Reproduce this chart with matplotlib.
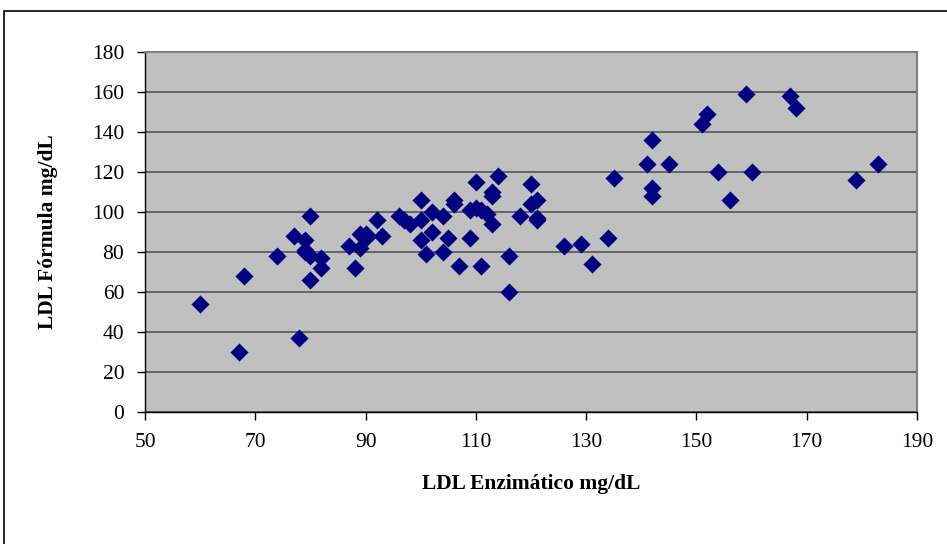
import matplotlib.pyplot as plt
from matplotlib.patches import Rectangle

# LDL enzimatico (x) vs LDL formula (y), mg/dL
ldl_enzimatico = [60, 67, 68, 74, 77, 78, 79, 79, 79, 80, 80, 80, 82, 82,
                  87, 88, 89, 89, 90, 90, 92, 93, 96, 97, 98,
                  100, 100, 100, 101, 102, 102, 104, 104, 105, 106, 106, 107,
                  109, 109, 110, 110, 111, 111, 112, 113, 113, 113, 114,
                  116, 116, 118, 120, 120, 121, 121, 121,
                  126, 129, 131, 134, 135, 141, 142, 142, 142, 145,
                  151, 152, 154, 156, 159, 160, 167, 168, 179, 183]
ldl_formula = [54, 30, 68, 78, 88, 37, 86, 81, 80, 98, 78, 66, 77, 72,
               83, 72, 82, 89, 89, 87, 96, 88, 98, 96, 94,
               106, 96, 86, 79, 100, 90, 98, 80, 87, 106, 104, 73,
               101, 87, 115, 102, 101, 73, 99, 110, 108, 94, 118,
               78, 60, 98, 114, 104, 106, 97, 96,
               83, 84, 74, 87, 117, 124, 136, 112, 108, 124,
               144, 149, 120, 106, 159, 120, 158, 152, 116, 124]

plt.rcParams['font.family'] = ['Liberation Serif', 'DejaVu Serif']

fig = plt.figure(figsize=(9.47, 5.44), dpi=100)
ax = fig.add_axes([145 / 947, (544 - 412) / 544, 772 / 947, 360 / 544])

# frame around the whole chart
fig.patches.append(Rectangle((4 / 947, -0.05), 1.0, (544 - 11) / 544 + 0.05,
                             transform=fig.transFigure, fill=False,
                             edgecolor='black', linewidth=1.2))

ax.set_facecolor('#C0C0C0')
ax.scatter(ldl_enzimatico, ldl_formula, marker='D', s=85, color='#000080',
           zorder=3, linewidths=0)

ax.set_xlim(50, 190)
ax.set_ylim(0, 180)
ax.set_xticks(range(50, 191, 20))
ax.set_yticks(range(0, 181, 20))
ax.yaxis.grid(True, color='#555555', linewidth=1.2)
ax.set_axisbelow(True)

for s in ['top', 'right']:
    ax.spines[s].set_color('#808080')
    ax.spines[s].set_linewidth(1.5)
for s in ['left', 'bottom']:
    ax.spines[s].set_color('black')
    ax.spines[s].set_linewidth(1)

ax.tick_params(direction='out', length=6, width=1, labelsize=15.5, pad=9)

ax.set_xlabel('LDL Enzimático mg/dL', fontsize=15.5, fontweight='bold', labelpad=16)
ax.set_ylabel('LDL Fórmula mg/dL', fontsize=15.5, fontweight='bold', labelpad=24)

fig.savefig('out.png', dpi=100)
